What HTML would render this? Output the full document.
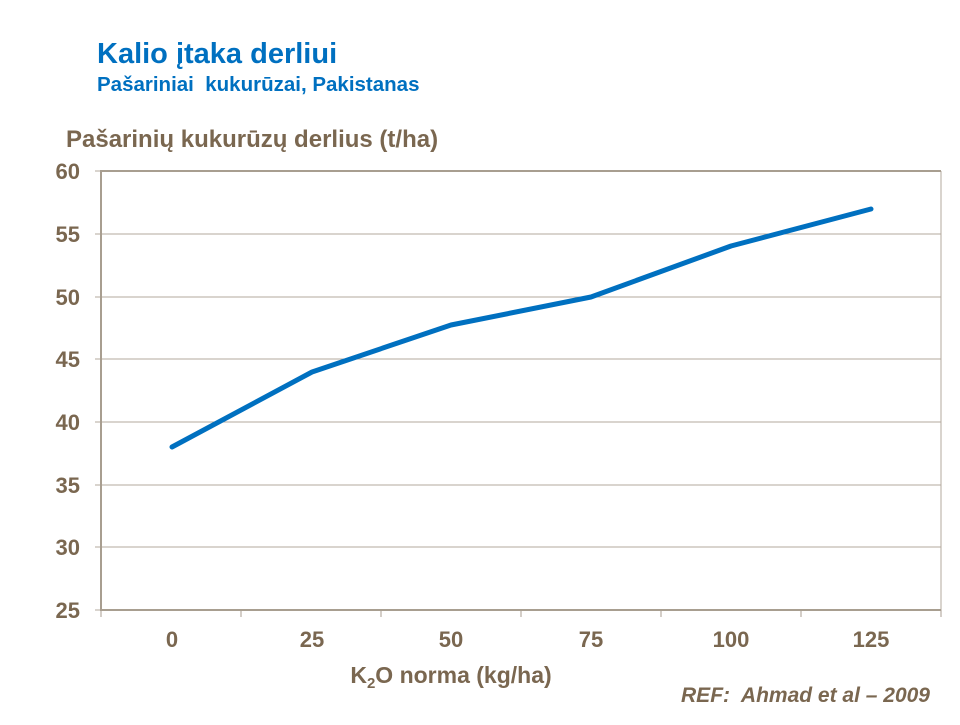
<!DOCTYPE html>
<html><head><meta charset="utf-8"><style>
html,body{margin:0;padding:0;background:#fff;}
body{width:960px;height:720px;overflow:hidden;}
</style></head><body>
<svg width="960" height="720" xmlns="http://www.w3.org/2000/svg" font-family="Liberation Sans, Arial, sans-serif" font-weight="bold">
<text x="97" y="63" font-size="29" fill="#0070c0">Kalio įtaka derliui</text>
<text x="97" y="91" font-size="20.5" fill="#0070c0">Pašariniai&#160;&#160;kukurūzai, Pakistanas</text>
<text x="66" y="147" font-size="24" fill="#7a6750">Pašarinių kukurūzų derlius (t/ha)</text>
<g stroke="#b3a99c" stroke-width="1">
<line x1="101" y1="234" x2="941" y2="234"/>
<line x1="101" y1="297" x2="941" y2="297"/>
<line x1="101" y1="359" x2="941" y2="359"/>
<line x1="101" y1="422" x2="941" y2="422"/>
<line x1="101" y1="485" x2="941" y2="485"/>
<line x1="101" y1="547" x2="941" y2="547"/>
<line x1="941" y1="171" x2="941" y2="610"/>
<line x1="95" y1="234" x2="101" y2="234"/><line x1="95" y1="297" x2="101" y2="297"/><line x1="95" y1="359" x2="101" y2="359"/><line x1="95" y1="422" x2="101" y2="422"/><line x1="95" y1="485" x2="101" y2="485"/><line x1="95" y1="547" x2="101" y2="547"/><line x1="95" y1="610" x2="101" y2="610"/><line x1="95" y1="171" x2="101" y2="171"/>
</g>
<g stroke="#a89e90" stroke-width="2">
<line x1="101" y1="171" x2="941" y2="171"/>
<line x1="101" y1="170" x2="101" y2="611"/>
<line x1="100" y1="610" x2="941" y2="610"/>
</g>
<g stroke="#a89e90" stroke-width="1">
<line x1="101" y1="610" x2="101" y2="617"/><line x1="241" y1="610" x2="241" y2="617"/><line x1="381" y1="610" x2="381" y2="617"/><line x1="521" y1="610" x2="521" y2="617"/><line x1="661" y1="610" x2="661" y2="617"/><line x1="801" y1="610" x2="801" y2="617"/><line x1="941" y1="610" x2="941" y2="617"/>
</g>
<g font-size="22" fill="#7a6750" text-anchor="end">
<text x="80" y="179">60</text><text x="80" y="242">55</text><text x="80" y="305">50</text><text x="80" y="367">45</text><text x="80" y="430">40</text><text x="80" y="493">35</text><text x="80" y="555">30</text><text x="80" y="618">25</text>
</g>
<g font-size="22" fill="#7a6750" text-anchor="middle">
<text x="172" y="647">0</text><text x="312" y="647">25</text><text x="451" y="647">50</text><text x="591" y="647">75</text><text x="731" y="647">100</text><text x="871" y="647">125</text>
<text x="451" y="683" font-size="23">K<tspan font-size="15" dy="5">2</tspan><tspan dy="-5">O norma (kg/ha)</tspan></text>
</g>
<text x="930" y="702" font-size="21" fill="#7a6750" font-style="italic" text-anchor="end">REF:&#160; Ahmad et al – 2009</text>
<polyline points="172,447 312,372 451,325 591,297 731,246 871,209" fill="none" stroke="#0070c0" stroke-width="5" stroke-linejoin="round" stroke-linecap="round"/>
</svg>
</body></html>
